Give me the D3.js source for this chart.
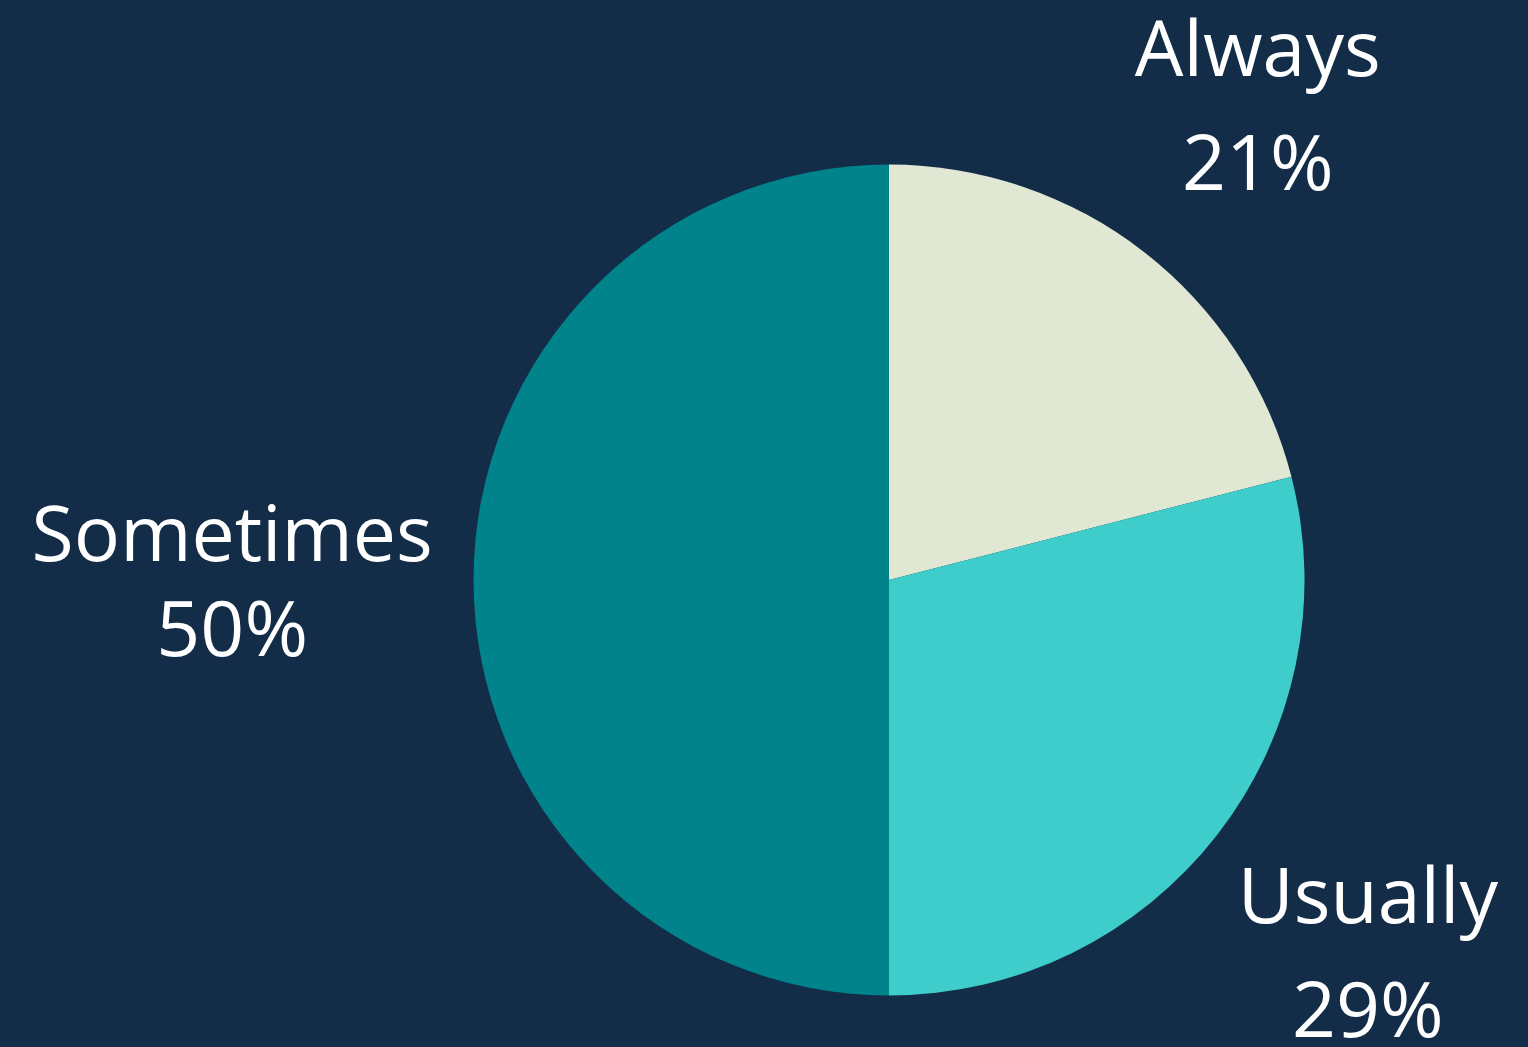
<!DOCTYPE html>
<html>
<head>
<meta charset="utf-8">
<script src="https://cdn.jsdelivr.net/npm/d3@7"></script>
<style>
  html, body { margin: 0; padding: 0; background: #132c48; }
  svg { display: block; }
  text { font-family: "Open Sans", sans-serif; fill: #ffffff; }
</style>
</head>
<body>
<svg id="chart" width="1528" height="1047"></svg>
<script>
// Survey answers and their shares (percent)
const categories = ["Always", "Usually", "Sometimes"];
const shares = [21, 29, 50];
const sliceColors = ["#e0e8d4", "#3ecdca", "#00838a"];

const width = 1528, height = 1047;
const cx = 889, cy = 580, radius = 415.5;

const svg = d3.select("#chart");
svg.append("rect").attr("width", width).attr("height", height).attr("fill", "#132c48");

const data = categories.map((c, i) => ({ name: c, value: shares[i] }));

const pie = d3.pie().value(d => d.value).sort(null);
const arcs = pie(data);

const arc = d3.arc().innerRadius(0).outerRadius(radius);
const color = d3.scaleOrdinal().domain(categories).range(sliceColors);

const g = svg.append("g").attr("transform", `translate(${cx},${cy})`);

g.selectAll("path.slice")
  .data(arcs)
  .join("path")
  .attr("class", "slice")
  .attr("d", arc)
  .attr("fill", d => color(d.data.name));

// Labels: placed along each slice's mid-angle, pushed out further for wide labels
const fontSize = 77;
const labels = svg.append("g");
arcs.forEach(d => {
  const mid = (d.startAngle + d.endAngle) / 2;
  const sx = Math.sin(mid), sy = -Math.cos(mid);
  const t = labels.append("text")
    .attr("text-anchor", "middle")
    .style("font-size", fontSize + "px");
  const l1 = t.append("tspan").attr("x", 0).attr("y", 0).text(d.data.name);
  const l2 = t.append("tspan").attr("x", 0).attr("y", 0).text(d.data.value + "%");
  const halfW = Math.max(l1.node().getComputedTextLength(), l2.node().getComputedTextLength()) / 2;
  const dist = radius * 1.445 + 0.7 * Math.max(0, halfW - 120) * Math.abs(sx);
  const x = cx + sx * dist;
  const y = cy + sy * dist;
  const gap = Math.abs(sx) > 0.95 ? 95 : 114;
  l1.attr("x", x).attr("y", y - gap / 2 + fontSize * 0.37);
  l2.attr("x", x).attr("y", y + gap / 2 + fontSize * 0.37);
});
</script>
</body>
</html>
